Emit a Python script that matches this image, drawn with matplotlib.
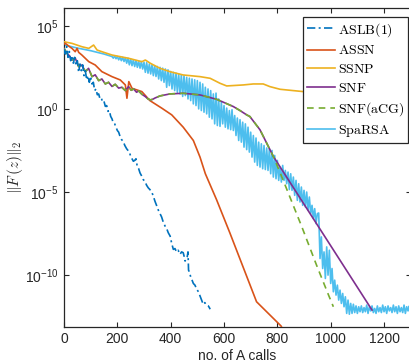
import matplotlib
matplotlib.use("Agg")
import matplotlib.pyplot as plt
import numpy as np
from matplotlib.font_manager import FontProperties
from matplotlib.ticker import FixedLocator

plt.rcParams['font.family'] = ['Liberation Sans', 'DejaVu Sans']
plt.rcParams['mathtext.fontset'] = 'custom'
plt.rcParams['mathtext.rm'] = 'Liberation Sans'
plt.rcParams['mathtext.it'] = 'Liberation Sans:italic'

# ---- data (x = no. of A calls, y = log10 ||F(z)||_2) ----
aslb_x = [0, 5, 10, 15, 20, 25, 30, 35, 40, 45, 50, 55, 60, 65, 70, 75, 80, 85, 90, 95, 100, 105, 110, 115, 120,
          125, 130, 135, 140, 145, 150, 155, 160, 165, 170, 175, 180, 185, 190, 200, 205, 210, 216, 222, 228, 235,
          240, 245, 250, 255, 260, 265, 270, 275, 280, 285, 290, 297, 303, 310, 316, 322, 329, 335, 341, 347, 354,
          360, 366, 372, 379, 385, 391, 398, 404, 410, 416, 422, 428, 435, 441, 447, 451, 454, 458, 462, 465, 467,
          470, 475, 479, 485, 491, 498, 504, 510, 516, 522, 528, 534, 541, 545, 548]
aslb_y = [3.6, 3.3, 3.75, 3.1, 3.45, 2.9, 3.2, 2.75, 3.1, 2.6, 2.9, 2.2, 2.7, 2.3, 2.65, 2.0, 2.3, 1.75, 2.0, 1.6,
          1.95, 1.5, 1.6, 1.1, 1.2, 0.85, 0.9, 0.6, 0.65, 0.4, 0.45, 0.15, 0.2, -0.15, -0.1, -0.45, -0.6, -0.85,
          -0.9, -1.3, -1.4, -1.65, -1.85, -1.95, -2.2, -2.4, -2.5, -2.6, -2.85, -3.0, -3.15, -3.1, -3.0, -3.5,
          -3.6, -3.85, -4.0, -4.25, -4.35, -4.6, -4.75, -4.85, -5.0, -5.25, -5.55, -5.8, -6.1, -6.3, -6.5, -6.8,
          -7.05, -7.2, -7.45, -7.65, -8.1, -8.45, -8.4, -8.6, -8.5, -8.75, -8.6, -8.65, -8.9, -9.15, -9.05, -8.9,
          -8.6, -9.7, -9.8, -10.1, -10.25, -10.5, -10.6, -10.85, -11.0, -11.25, -11.5, -11.75, -11.65, -11.8,
          -11.85, -11.95, -12.05]

assn_x = [0, 5, 20, 30, 42, 49, 55, 67, 93, 117, 142, 180, 211, 230, 236, 243, 255, 292, 322, 367, 404, 447,
          485, 510, 530, 572, 622, 722, 814, 830]
assn_y = [3.9, 3.94, 3.75, 3.64, 3.44, 3.64, 3.4, 3.24, 2.84, 2.64, 2.24, 1.94, 1.74, 1.44, 0.64, 1.64, 1.24,
          1.04, 0.5, 0.04, -0.36, -1.1, -1.9, -2.9, -3.9, -5.46, -7.46, -11.6, -13.06, -13.6]

ssnp_x = [0, 30, 67, 93, 111, 124, 142, 180, 243, 292, 305, 324, 360, 397, 447, 510, 548, 585, 610, 672, 710,
          747, 772, 810, 897, 1000, 1100, 1200, 1300]
ssnp_y = [4.04, 3.94, 3.74, 3.64, 3.84, 3.54, 3.44, 3.24, 3.04, 2.84, 2.94, 2.74, 2.44, 2.24, 2.04, 1.94, 1.84,
          1.54, 1.38, 1.44, 1.5, 1.5, 1.34, 1.18, 1.04, 0.9, 0.8, 0.7, 0.6]

snf_x = [0, 11, 20, 30, 42, 55, 67, 80, 92, 105, 117, 130, 142, 155, 167, 180, 192, 205, 217, 230, 242, 252,
         261, 272, 280, 292, 305, 315, 324, 333, 342, 360, 397, 447, 510, 572, 635, 660, 685, 697, 735, 760, 785,
         1155]
snf_y = [3.64, 3.34, 3.2, 2.94, 3.06, 2.54, 2.64, 2.24, 2.44, 1.94, 2.05, 1.7, 1.8, 1.5, 1.6, 1.35, 1.48, 1.25,
         1.3, 1.1, 1.34, 1.12, 1.2, 1.0, 1.08, 0.88, 0.74, 0.6, 0.54, 0.58, 0.66, 0.78, 0.9, 0.94, 0.84, 0.58,
         0.14, -0.1, -0.36, -0.46, -1.26, -2.06, -2.86, -12.1]

snfacg_x = snf_x[:-1] + [816, 891, 947, 991, 1010]
snfacg_y = snf_y[:-1] + [-4.06, -7.06, -9.4, -11.16, -11.9]

sparsa_y = [3.85, 3.66, 3.5, 3.3,
    3.15, 3.05, 3.18, 3.02, 3.15, 2.95, 3.12, 2.9, 3.1, 2.85, 3.08, 2.75, 3.05,
    2.65, 3.0, 2.6, 2.95, 2.55, 2.9, 2.5, 2.88, 2.45, 2.85, 2.4, 2.8,
    2.2, 2.78, 2.15, 2.7, 2.1, 2.65, 2.0, 2.6, 1.95, 2.55, 1.8, 2.5,
    1.7, 2.45, 1.6, 2.4, 1.3, 2.35, 1.4, 2.25, 1.2, 2.2, 1.1, 2.15,
    1.0, 2.1, 0.9, 2.05, 0.75, 2.0, 0.8, 1.9, 0.6, 1.85, 0.5, 1.8,
    0.3, 1.75, 0.2, 1.7, 0.0, 1.6, -0.1, 1.5, -0.2, 1.3, -0.3, 1.2,
    -0.5, 1.1, -0.6, 0.9, -0.9, 0.95, -1.0, 0.6, -1.05, 0.4, -0.9, 0.2,
    -1.1, 0.05, -1.2, -0.1, -1.25, -0.05, -1.3, -0.4, -1.6, -0.55, -1.9, -0.65,
    -2.0, -0.8, -2.3, -0.9, -2.45, -1.1, -2.6, -1.4, -2.9, -1.6, -3.2, -1.75,
    -3.4, -2.0, -3.5, -2.1, -3.6, -2.2, -3.65, -2.35, -3.7, -2.4, -3.9, -2.5,
    -4.1, -2.8, -4.2, -3.1, -4.3, -3.5, -4.4, -3.4, -4.3, -3.7, -4.5, -3.8,
    -4.85, -3.9, -4.9, -4.1, -5.2, -4.3, -5.5, -4.5, -5.6, -4.7, -5.8, -4.9,
    -5.9, -5.0, -6.1, -5.3, -6.3, -5.8, -6.6, -6.0, -6.9, -6.3,
    -6.26, -9.0, -7.7, -9.6, -8.6, -10.2, -8.3, -10.0, -8.5, -10.5,
    -9.6, -11.0, -10.3, -11.2, -10.6, -11.5, -10.9, -11.7, -11.1, -11.9, -11.3, -12.3,
    -11.5, -12.35, -11.7, -12.3, -11.75, -12.25, -11.85, -12.3, -11.9, -12.2,
    -11.85, -12.25, -11.95, -12.2, -11.8, -12.3, -11.9, -12.15, -11.85, -12.25,
    -12.0, -12.3, -11.85, -12.2, -11.95, -12.25, -11.8, -12.2, -11.9, -12.3,
    -11.85, -12.15, -11.95, -12.25, -11.8, -12.2, -11.9, -12.3, -11.85, -12.2,
    -11.95, -12.25, -11.8, -12.3, -11.9, -12.15, -11.85, -12.25]
sparsa_x = [0, 50, 100, 150] + list(range(180, 180 + 5 * (len(sparsa_y) - 4), 5))

labels = ['ASLB(1)', 'ASSN', 'SSNP', 'SNF', 'SNF(aCG)', 'SpaRSA']
colors = ['#0072BD', '#D95319', '#EDB120', '#7E2F8E', '#77AC30', '#4DBEEE']

xticks = [0, 200, 400, 600, 800, 1000, 1200]
yticks = [1e-10, 1e-5, 1e0, 1e5]

fig = plt.figure(figsize=(4.10, 3.62), dpi=100)
ax = fig.add_axes([64/410, 1 - 326.7/362, (410.7 - 64)/410, (326.7 - 8.3)/362])

lw = 1.2
h_sp, = ax.plot(sparsa_x, 10.0**np.array(sparsa_y), color=colors[5], lw=lw, zorder=2)
h_ss, = ax.plot(ssnp_x, 10.0**np.array(ssnp_y), color=colors[2], lw=lw, zorder=3)
h_as, = ax.plot(assn_x, 10.0**np.array(assn_y), color=colors[1], lw=lw, zorder=3)
h_snf, = ax.plot(snf_x, 10.0**np.array(snf_y), color=colors[3], lw=lw, zorder=4)
h_acg, = ax.plot(snfacg_x, 10.0**np.array(snfacg_y), color=colors[4], lw=lw, ls=(0, (4, 3)), zorder=5)
h_al, = ax.plot(aslb_x, 10.0**np.array(aslb_y), color=colors[0], lw=lw, ls=(0, (5, 2, 1.2, 2)), zorder=6)

ax.set_yscale('log')
ax.set_xlim(0, 1300)
ax.set_ylim(10**-13.1, 10**6.05)
ax.xaxis.set_major_locator(FixedLocator(xticks))
ax.yaxis.set_major_locator(FixedLocator(yticks))
ax.yaxis.set_minor_locator(FixedLocator([]))
ax.set_xticklabels([str(t) for t in xticks])
ax.set_yticklabels([r'$10^{-10}$', r'$10^{-5}$', r'$10^{0}$', r'$10^{5}$'])

axc = '#262626'
for s in ax.spines.values():
    s.set_color(axc)
    s.set_linewidth(0.9)
ax.tick_params(which='both', direction='in', top=True, right=True, length=3.5, width=0.8,
               colors=axc, labelsize=10, pad=4)

ax.set_xlabel('no. of A calls', fontsize=10, color=axc, labelpad=2)
ylab_fp = FontProperties(size=11, math_fontfamily='cm')
ax.set_ylabel(r'$\|F\,(z)\|_2$', fontproperties=ylab_fp, color=axc)
ax.yaxis.set_label_coords(-0.112, 0.5)

leg_fp = FontProperties(size=10, math_fontfamily='cm')
leg = ax.legend([h_al, h_as, h_ss, h_snf, h_acg, h_sp],
                [r'$\mathrm{' + l + '}$' for l in labels],
                prop=leg_fp, loc='upper right', bbox_to_anchor=(0.993, 0.974),
                fancybox=False, framealpha=1, edgecolor='#262626', borderpad=0.3,
                labelspacing=0.35, handlelength=2.0, handletextpad=0.2, borderaxespad=0)
leg.get_frame().set_linewidth(0.9)

fig.savefig('out.png', dpi=100)
